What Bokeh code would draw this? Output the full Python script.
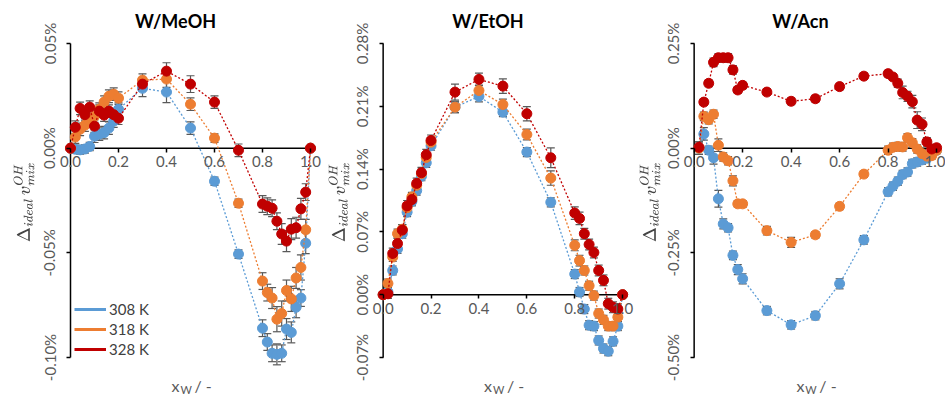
from bokeh.plotting import figure
from bokeh.models import (ColumnDataSource, Range1d, FixedTicker, PrintfTickFormatter,
                          Whisker, TeeHead, Legend, LegendItem, LinearAxis, Label)
from bokeh.layouts import row
from bokeh.embed import file_html
from bokeh.resources import INLINE

# ---------------- data (values in %) ----------------
series_names = ["308 K", "318 K", "328 K"]
colors = ["#5B9BD5", "#ED7D31", "#C00000"]

x_grid = [0.0, 0.02, 0.04, 0.06, 0.08, 0.10, 0.12, 0.14, 0.16, 0.18, 0.20,
          0.3, 0.4, 0.5, 0.6, 0.7,
          0.80, 0.82, 0.84, 0.86, 0.88, 0.90, 0.92, 0.94, 0.96, 0.98, 1.0]
x_acn = [0.02, 0.04, 0.06, 0.08, 0.10, 0.12, 0.14, 0.16, 0.18, 0.20,
         0.3, 0.4, 0.5, 0.6, 0.7,
         0.80, 0.82, 0.84, 0.86, 0.88, 0.90, 0.92, 0.94, 0.96, 0.98, 1.0]

# W/MeOH
meoh_308 = [0.0, -0.0005, -0.0008, -0.0004, 0.0008, 0.0057, 0.0067, 0.0074, 0.0096, 0.0129, 0.0186,
            0.0286, 0.0268, 0.0096, -0.0158, -0.0506,
            -0.0860, -0.0926, -0.0980, -0.0985, -0.0980, -0.0864, -0.0880, -0.0760, -0.0716, -0.0454, 0.0]
meoh_318 = [0.0, 0.0053, 0.0090, 0.0110, 0.0130, 0.0153, 0.0186, 0.0220, 0.0248, 0.0258, 0.0239,
            0.0325, 0.0330, 0.0210, 0.0048, -0.0263,
            -0.0635, -0.0690, -0.0716, -0.0817, -0.0790, -0.0680, -0.0720, -0.0620, -0.0570, -0.0390, 0.0]
meoh_328 = [0.0, 0.0100, 0.0190, 0.0160, 0.0196, 0.0105, 0.0177, 0.0158, 0.0177, 0.0160, 0.0143,
            0.0306, 0.0368, 0.0306, 0.0220, -0.0010,
            -0.0267, -0.0277, -0.0287, -0.0349, -0.0410, -0.0444, -0.0387, -0.0380, -0.0290, -0.0210, 0.0]
meoh_err_308 = [0, .002, .002, .002, .002, .003, .003, .003, .003, .003, .003,
                .004, .005, .003, .002, .002,
                .004, .004, .004, .005, .004, .005, .005, .005, .004, .005, 0]
meoh_err_318 = [0, .003, .003, .003, .003, .003, .003, .003, .003, .003, .003,
                .003, .004, .003, .002, .002,
                .004, .004, .005, .006, .006, .005, .006, .005, .006, .005, 0]
meoh_err_328 = [0, .003, .003, .003, .003, .003, .003, .003, .003, .003, .003,
                .003, .004, .004, .003, .003,
                .004, .004, .004, .004, .005, .005, .005, .005, .005, .004, 0]

# W/EtOH
etoh_308 = [0.0, 0.003, 0.027, 0.051, 0.068, 0.092, 0.104, 0.116, 0.132, 0.147, 0.166,
            0.209, 0.221, 0.2035, 0.159, 0.103,
            0.023, 0.003, -0.016, -0.034, -0.035, -0.051, -0.060, -0.063, -0.052, -0.035, 0.0]
etoh_318 = [0.0, 0.0125, 0.042, 0.068, 0.073, 0.097, 0.109, 0.122, 0.135, 0.153, 0.170,
            0.209, 0.2276, 0.212, 0.1785, 0.130,
            0.055, 0.038, 0.027, 0.010, -0.001, -0.021, -0.028, -0.035, -0.035, -0.025, 0.0]
etoh_328 = [0.0, 0.001, 0.046, 0.057, 0.072, 0.099, 0.106, 0.124, 0.136, 0.156, 0.172,
            0.2258, 0.240, 0.2325, 0.2017, 0.1526,
            0.091, 0.085, 0.068, 0.056, 0.047, 0.027, 0.016, -0.010, -0.014, -0.016, 0.0]
etoh_err_308 = [0, .005, .005, .005, .005, .005, .005, .005, .005, .005, .005,
                .006, .006, .005, .005, .005,
                .005, .005, .005, .005, .005, .005, .005, .005, .005, .005, 0]
etoh_err_318 = [0, .005, .005, .005, .005, .005, .005, .005, .005, .005, .005,
                .006, .006, .006, .006, .008,
                .006, .006, .005, .005, .005, .005, .005, .005, .005, .005, 0]
etoh_err_328 = [0, .005, .006, .006, .006, .006, .006, .006, .006, .006, .006,
                .009, .007, .008, .008, .011,
                .007, .007, .006, .006, .006, .006, .006, .006, .006, .006, 0]

# W/Acn
acn_308 = [0.0, 0.034, -0.005, -0.023, -0.121, -0.181, -0.190, -0.256, -0.290, -0.312,
           -0.388, -0.422, -0.400, -0.324, -0.219,
           -0.104, -0.091, -0.079, -0.063, -0.057, -0.037, -0.033, -0.028, -0.024, -0.013, -0.005]
acn_318 = [0.0, 0.076, 0.068, 0.081, 0.007, -0.021, -0.030, -0.078, -0.133, -0.133,
           -0.197, -0.225, -0.207, -0.139, -0.062,
           -0.005, 0.002, 0.004, 0.003, 0.025, 0.013, -0.002, -0.013, -0.019, -0.018, -0.005]
acn_328 = [0.002, 0.110, 0.155, 0.205, 0.216, 0.216, 0.216, 0.187, 0.139, 0.150,
           0.134, 0.112, 0.118, 0.147, 0.172,
           0.178, 0.170, 0.155, 0.133, 0.124, 0.111, 0.067, 0.057, 0.015, -0.002, 0.001]
acn_err_308 = [0.015, 0.015, 0.010, 0.015, 0.020, 0.012, 0.010, 0.010, 0.012, 0.012,
               0.010, 0.010, 0.010, 0.012, 0.010,
               0.010, 0.010, 0.010, 0.010, 0.010, 0.010, 0.010, 0.010, 0.008, 0.008, 0.008]
acn_err_318 = [0.015, 0.010, 0.010, 0.010, 0.015, 0.010, 0.010, 0.012, 0.008, 0.008,
               0.010, 0.012, 0.008, 0.008, 0.008,
               0.010, 0.010, 0.010, 0.010, 0.010, 0.010, 0.010, 0.010, 0.008, 0.008, 0.008]
acn_err_328 = [0.008, 0.008, 0.008, 0.010, 0.010, 0.010, 0.010, 0.010, 0.008, 0.008,
               0.008, 0.008, 0.008, 0.008, 0.008,
               0.008, 0.008, 0.010, 0.015, 0.012, 0.015, 0.020, 0.015, 0.010, 0.008, 0.008]

x_ticks = [0.0, 0.2, 0.4, 0.6, 0.8, 1.0]
meoh_yticks = [-0.10, -0.05, 0.0, 0.05]
etoh_yticks = [-0.07, 0.0, 0.07, 0.14, 0.21, 0.28]
acn_yticks = [-0.50, -0.25, 0.0, 0.25]

x_title_main = "x"
x_title_sub = "W"
x_title_rest = "/ -"
y_title = r"$$\Delta_{ideal}\,v_{mix}^{OH}$$"

FONT = "Lato"
TICK_COLOR = "#595959"
ERR_COLOR = "#595959"
H = 403
PAD_L = 34    # px of frame left of the y axis (room for the tick labels)
PAD_T = 43    # px above the top tick
PAD_B = 46    # px below the bottom tick
AXIS_H = H - PAD_T - PAD_B


def make_panel(title, left_border, scale, pad_r, label_standoff,
               yticks, xs, ys_list, errs_list, with_legend=False):
    frame_w = PAD_L + scale + pad_r
    ymin, ymax = yticks[0], yticks[-1]
    per_px = (ymax - ymin) / AXIS_H
    p = figure(width=left_border + frame_w, height=H, output_backend="svg",
               toolbar_location=None, title=None,
               x_range=Range1d(-PAD_L / scale, 1 + pad_r / scale),
               y_range=Range1d(ymin - PAD_B * per_px, ymax + PAD_T * per_px),
               min_border_left=left_border, min_border_right=0,
               min_border_top=0, min_border_bottom=0)
    p.outline_line_color = None
    p.grid.visible = False
    p.background_fill_color = "white"
    p.border_fill_color = "white"

    # ---- title (inside the frame area) ----
    p.add_layout(Label(x=0.5, y=ymax, x_offset=-15, y_offset=23, text=title,
                       text_font=FONT, text_font_style="bold", text_font_size="18px",
                       text_color="#000000", text_align="center",
                       text_baseline="middle"))

    # ---- x axis crossing at y = 0 ----
    xa = p.xaxis[0]
    xa.fixed_location = 0
    xa.ticker = FixedTicker(ticks=x_ticks)
    xa.formatter = PrintfTickFormatter(format="%.1f")
    xa.major_label_text_font = FONT
    xa.major_label_text_font_size = "15px"
    xa.major_label_text_color = TICK_COLOR
    xa.major_label_standoff = 4
    xa.axis_line_color = None
    xa.major_tick_line_color = "black"
    xa.major_tick_line_width = 1.5
    xa.major_tick_in = 0
    xa.major_tick_out = 4
    xa.minor_tick_line_color = None
    p.segment(x0=[x_ticks[0]], y0=[0.0], x1=[x_ticks[-1]], y1=[0.0],
              line_color="black", line_width=1.5)

    # ---- x axis title: x, subscript W, then " / -" ----
    p.add_layout(Label(x=0.5, y=ymin, x_offset=-11, y_offset=-28, text=x_title_main,
                       text_font=FONT, text_font_size="16px", text_color=TICK_COLOR,
                       text_align="right", text_baseline="middle"))
    p.add_layout(Label(x=0.5, y=ymin, x_offset=-10, y_offset=-32, text=x_title_sub,
                       text_font=FONT, text_font_size="11px", text_color=TICK_COLOR,
                       text_align="left", text_baseline="middle"))
    p.add_layout(Label(x=0.5, y=ymin, x_offset=4, y_offset=-28, text=x_title_rest,
                       text_font=FONT, text_font_size="16px", text_color=TICK_COLOR,
                       text_align="left", text_baseline="middle"))

    # ---- y axis: title on the normal left axis, ticks/labels at x = 0 ----
    yt = p.yaxis[0]
    yt.ticker = FixedTicker(ticks=[])
    yt.axis_line_color = None
    yt.major_tick_line_color = None
    yt.minor_tick_line_color = None
    yt.major_tick_out = 0
    yt.major_tick_in = 0
    yt.major_label_standoff = 0
    yt.axis_label = y_title
    yt.axis_label_text_font_size = "15px"
    yt.axis_label_standoff = label_standoff

    ya = LinearAxis(fixed_location=0, ticker=FixedTicker(ticks=yticks),
                    formatter=PrintfTickFormatter(format="%.2f%%"),
                    major_label_orientation="vertical",
                    major_label_text_font=FONT, major_label_text_font_size="15px",
                    major_label_text_color=TICK_COLOR,
                    axis_line_color=None,
                    major_tick_line_color="black", major_tick_line_width=1.5,
                    major_tick_in=0, major_tick_out=4, minor_tick_line_color=None,
                    major_label_standoff=8)
    p.add_layout(ya, "left")
    p.segment(x0=[x_ticks[0]], y0=[ymin], x1=[x_ticks[0]], y1=[ymax],
              line_color="black", line_width=1.5)

    legend_renderers = []
    for ys, es, col in zip(ys_list, errs_list, colors):
        src = ColumnDataSource(dict(
            x=xs, y=ys,
            upper=[a + b for a, b in zip(ys, es)],
            lower=[a - b for a, b in zip(ys, es)]))
        p.line("x", "y", source=src, line_color=col, line_width=1.3, line_dash="2 2")
        w = Whisker(source=src, base="x", upper="upper", lower="lower",
                    line_color=ERR_COLOR, line_width=1.2,
                    upper_head=TeeHead(size=8, line_color=ERR_COLOR, line_width=1.2),
                    lower_head=TeeHead(size=8, line_color=ERR_COLOR, line_width=1.2))
        p.add_layout(w)
        p.scatter("x", "y", source=src, size=10, fill_color=col, line_color=col)
        if with_legend:
            legend_renderers.append(
                p.line(x=[float("nan")], y=[float("nan")], line_color=col, line_width=3))

    if with_legend:
        leg = Legend(items=[LegendItem(label=n, renderers=[r])
                            for n, r in zip(series_names, legend_renderers)],
                     location=(PAD_L + 4, PAD_B - 2), glyph_width=32, glyph_height=20,
                     label_text_font=FONT, label_text_font_size="15px",
                     label_text_color="#404040", label_standoff=3,
                     spacing=0, padding=0, margin=0,
                     border_line_color=None, background_fill_alpha=0)
        p.add_layout(leg)
    return p


p1 = make_panel("W/MeOH", 36, 240, 15, 2, meoh_yticks, x_grid,
                [meoh_308, meoh_318, meoh_328],
                [meoh_err_308, meoh_err_318, meoh_err_328], with_legend=True)
p2 = make_panel("W/EtOH", 21, 242, 14, 0, etoh_yticks, x_grid,
                [etoh_308, etoh_318, etoh_328],
                [etoh_err_308, etoh_err_318, etoh_err_328])
p3 = make_panel("W/Acn", 21, 245, 9, 0, acn_yticks, x_acn,
                [acn_308, acn_318, acn_328],
                [acn_err_308, acn_err_318, acn_err_328])

layout = row(p1, p2, p3, spacing=0)
open("out.html", "w").write(file_html(layout, INLINE))
